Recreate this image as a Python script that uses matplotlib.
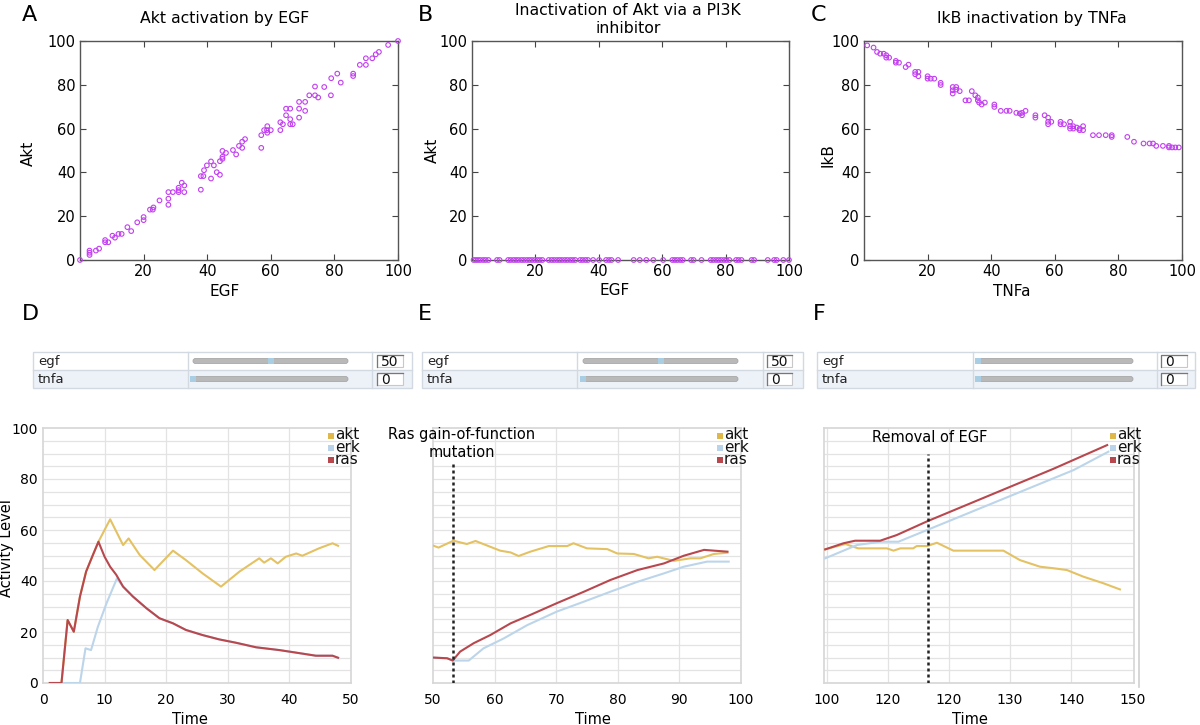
import matplotlib
matplotlib.use('Agg')
import matplotlib.pyplot as plt
from matplotlib.patches import Rectangle, FancyBboxPatch

# ---------------- DATA ----------------
# Panel A: Akt activation by EGF
a_egf = [0, 3, 3, 3, 5, 6, 7.9, 7.9, 8.9, 10.2, 11, 12.1, 13.1, 14.9, 16.1, 18, 20, 20, 22, 22.9,
         23.1, 25, 27.8, 27.8, 27.8, 29.2, 31, 31, 31, 32, 32.8, 32.8, 38, 38, 38.8, 39, 39.9, 41.2,
         41.2, 42.1, 43, 44, 44, 44.8, 44.8, 44.8, 45.9, 48.1, 49.1, 50, 51, 51, 51.9, 57, 57, 57.9,
         58.8, 58.9, 58.9, 60, 63, 63, 63.8, 64.8, 64.8, 66.1, 66.1, 66.1, 66.9, 68.9, 68.9, 68.9,
         70.8, 70.8, 72.1, 73.9, 73.9, 74.9, 76.8, 78.9, 79, 80.9, 82, 85.9, 85.9, 88, 89.9, 89.9,
         91.9, 93, 94, 96.9, 100]
a_akt = [0, 4.3, 3.3, 2.3, 4.3, 5.2, 9.1, 8.1, 8.1, 11.1, 10.2, 11.9, 11.9, 15, 13.2, 17.2, 19.6,
         18.2, 23, 23, 24, 27.2, 31, 28, 25.2, 31, 33, 31.9, 31, 35.3, 34, 31, 32.1, 38.3, 38.3, 41,
         43.2, 45, 37.2, 43.2, 40.1, 38.9, 45.1, 49.8, 47.1, 46.2, 48.9, 50.2, 48.2, 52.1, 51.2, 54,
         55.2, 51.2, 57, 59.3, 59.3, 61.1, 58.1, 59.3, 59.3, 62.9, 62, 66.1, 69.1, 69.1, 64.3, 62, 62,
         65, 69.1, 72.2, 72.2, 68.1, 75.2, 79.2, 75.2, 74.2, 79, 75.2, 83, 85.1, 81, 85.1, 84, 89.1,
         89.1, 92.1, 92.1, 93.9, 95, 98.2, 100]

# Panel B: Akt with PI3K inhibitor (all zero)
b_egf = [0.5, 1.2, 1.9, 2.6, 3.5, 4.3, 5.2, 7.9, 8.7, 11.4, 12.2, 13.1, 13.9, 14.7, 15.6, 16.4,
         17.3, 18.1, 18.9, 19.8, 20.6, 21.4, 22.2, 24.2, 25.1, 25.9, 26.8, 27.6, 28.4, 29.3, 30.1,
         31, 31.8, 32.6, 34.1, 34.9, 35.8, 36.6, 38.2, 40.1, 42.3, 43.2, 44, 46.1, 51, 52.9, 55,
         57.2, 60.3, 63.2, 64, 64.8, 65.7, 66.5, 69.1, 69.9, 72.4, 75.3, 76.1, 77, 77.8, 78.6, 79.5,
         80.3, 81.2, 83.3, 84.1, 85, 88.2, 89, 93.3, 95.3, 96.1, 98.2, 100]
b_akt = [0] * len(b_egf)

# Panel C: IkB inactivation by TNFa
c_tnfa = [1, 3, 4.1, 5.1, 6.2, 7, 7, 7.9, 10, 10, 11, 13.1, 14, 16.1, 16.1, 17.1, 17.1, 20, 20, 21,
          22.1, 24.1, 24.1, 27.9, 27.9, 27.9, 29, 29, 30.1, 31.9, 33, 33.9, 35, 35.8, 35.8, 36.2, 37,
          38, 41, 41, 43, 44.8, 45.8, 47.9, 49, 49.7, 49.7, 50.8, 53.9, 53.9, 56.8, 57.9, 57.9, 57.9,
          58.9, 61.8, 61.8, 62.9, 64.8, 64.8, 64.8, 65.8, 65.8, 66.9, 67.8, 67.8, 68.9, 68.9, 72,
          73.9, 76, 77.9, 77.9, 82.8, 84.9, 87.9, 89.8, 90.9, 91.9, 94, 95.9, 95.9, 96.9, 97.9, 99]
c_ikb = [98, 97, 95, 94.2, 94.2, 93.5, 92.4, 92.4, 90.9, 90.1, 90.1, 88.1, 89.2, 85.9, 84.8, 85.9,
         83.9, 83.9, 82.8, 82.8, 82.8, 80.9, 79.9, 79, 77.5, 76, 79, 77.8, 77.1, 72.9, 72.9, 77.1,
         75.2, 74.2, 72.9, 71.9, 71, 71.9, 71, 69.9, 68.1, 68.1, 68.1, 67.2, 66.9, 67.2, 66.1, 68.1,
         66.1, 65, 66.1, 65, 63.1, 62, 63.1, 63.1, 62, 62, 63.1, 61.1, 60, 60, 61.1, 60.5, 60, 59.3,
         61.1, 59.3, 57, 57, 57, 57, 56.2, 56.2, 54, 53.2, 53.2, 53.2, 52.1, 52.1, 52.1, 51.4, 51.4,
         51.4, 51.4]

scatter_xticks = [20, 40, 60, 80, 100]
scatter_yticks = [0, 20, 40, 60, 80, 100]

# Panel D: time course, EGF = 50
d_ras_t = [1.1, 3.0, 4.0, 5.0, 6.0, 7.0, 8.1, 9.0, 10.0, 10.9, 11.9, 13.0, 14.6, 16.8, 18.9, 21.1,
           23.2, 25.9, 28.6, 31.3, 34.6, 38.4, 41.1, 44.3, 47.0, 47.9]
d_ras_v = [0, 0, 24.7, 20.1, 33.9, 43.7, 50.2, 55.4, 49.5, 45.6, 42.4, 37.8, 33.9, 29.3, 25.4, 23.4,
           20.8, 18.8, 17.1, 15.8, 14.0, 12.9, 11.9, 10.7, 10.7, 9.9]
d_erk_t = [1.1, 6.0, 6.9, 7.8, 8.9, 10.3, 12.0, 13.0, 14.6, 16.8, 18.9, 21.1, 23.2, 25.9, 28.6,
           31.3, 34.6, 38.4, 41.1, 44.3, 47.0, 47.9]
d_erk_v = [0, 0, 13.6, 12.9, 22.0, 31.2, 41.0, 37.8, 33.9, 29.3, 25.4, 23.4, 20.8, 18.8, 17.1,
           15.8, 14.0, 12.9, 11.9, 10.7, 10.7, 9.9]
d_akt_t = [1.1, 3.0, 4.0, 5.0, 6.0, 7.0, 8.1, 9.0, 10.9, 13.0, 13.9, 15.7, 18.1, 21.1, 23.2, 25.9,
           28.9, 31.9, 35.1, 35.9, 37.0, 38.1, 39.4, 41.1, 42.1, 44.8, 47.0, 47.9]
d_akt_v = [0, 0, 24.7, 20.1, 33.9, 43.7, 50.2, 55.4, 64.2, 54.1, 56.7, 50.2, 44.3, 51.9, 48.2, 43.0,
           37.8, 43.7, 48.9, 47.2, 48.9, 46.9, 49.5, 50.8, 49.9, 52.8, 54.8, 53.8]

# Panel E: Ras gain-of-function mutation
e_event_t = 53.2
e_ras_t = [49.8, 52.3, 53.2, 54.4, 56.6, 59.3, 62.6, 65.8, 70.1, 74.5, 78.8, 83.2, 87.5, 90.7, 94.0,
           97.8]
e_ras_v = [10.0, 9.7, 8.8, 12.3, 15.6, 18.8, 23.4, 26.7, 31.3, 35.8, 40.4, 44.3, 46.9, 49.9, 52.2,
           51.5]
e_erk_t = [49.8, 52.3, 53.2, 55.8, 58.2, 61.5, 65.3, 70.1, 74.5, 78.8, 83.2, 87.5, 90.7, 94.5, 98.0]
e_erk_v = [10.0, 9.7, 8.8, 8.8, 13.6, 17.5, 22.7, 28.0, 31.9, 35.8, 39.7, 43.0, 45.6, 47.6, 47.6]
e_akt_t = [49.8, 50.9, 53.3, 55.5, 56.9, 60.9, 62.6, 63.9, 65.8, 68.8, 71.8, 72.8, 75.0, 78.3, 79.9,
           82.6, 85.0, 86.4, 89.1, 91.8, 93.4, 95.6, 97.8]
e_akt_v = [54.1, 53.1, 55.8, 54.5, 55.7, 51.9, 51.2, 49.8, 51.5, 53.7, 53.7, 54.8, 52.8, 52.5, 50.8,
           50.6, 48.9, 49.5, 47.9, 48.9, 48.9, 50.6, 51.1]

# Panel F: removal of EGF
f_event_t = 116.5
f_ras_t = [99.7, 102.7, 104.6, 108.7, 111.4, 116.4, 137.1, 145.9]
f_ras_v = [52.4, 54.8, 55.8, 55.8, 58.0, 63.4, 84.0, 93.3]
f_erk_t = [99.7, 104.9, 108.7, 111.7, 116.4, 140.4, 146.1]
f_erk_v = [48.9, 54.1, 55.4, 55.4, 60.0, 83.5, 90.7]
f_akt_t = [99.7, 103.0, 105.1, 109.8, 110.9, 112.0, 114.1, 114.7, 116.4, 118.0, 120.7, 128.9, 131.6,
           134.9, 137.1, 139.3, 142.0, 145.3, 148.0]
f_akt_v = [52.4, 54.5, 52.8, 52.8, 51.9, 52.8, 52.8, 53.7, 53.7, 55.0, 51.9, 51.9, 48.2, 45.6, 45.0,
           44.3, 41.7, 39.1, 36.7]
f_xticks = [100, 110, 120, 130, 140, 150]
f_xticklabels = ['100', '120', '120', '130', '140', '150']

time_yticks = [0, 20, 40, 60, 80, 100]
species = ['akt', 'erk', 'ras']

# slider settings (egf, tnfa) shown above D, E, F
slider_egf = [50, 50, 0]
slider_tnfa = [0, 0, 0]

# ---------------- STYLE ----------------
W, H = 1200, 725
plt.rcParams['font.family'] = ['DejaVu Sans']
fig = plt.figure(figsize=(12, 7.25), dpi=100)
fig.patch.set_facecolor('white')

colors = {'akt': '#e4c263', 'erk': '#bcd5ea', 'ras': '#b8474e'}
legend_colors = {'akt': '#e0b84a', 'erk': '#b9d3ea', 'ras': '#b8474e'}
scatter_color = '#c23ff0'


def px_axes(l, t, r, b, **kw):
    return fig.add_axes([l / W, 1 - b / H, (r - l) / W, (b - t) / H], **kw)


# ---------- top scatter panels ----------
def scatter_panel(ax, x, y):
    ax.scatter(x, y, s=11, facecolors='none', edgecolors=scatter_color, linewidths=0.8,
               clip_on=False, zorder=3)
    ax.set_xlim(0, 100)
    ax.set_ylim(0, 100)
    ax.set_xticks(scatter_xticks)
    ax.set_yticks(scatter_yticks)
    ax.tick_params(direction='in', top=True, right=True, length=4, width=0.8,
                   labelsize=10.5, pad=3, color='#444')
    for s in ax.spines.values():
        s.set_color('#555555')
        s.set_linewidth(1.0)


axA = px_axes(80, 41, 398, 260)
scatter_panel(axA, a_egf, a_akt)
axB = px_axes(472, 41, 789, 260)
scatter_panel(axB, b_egf, b_akt)
axC = px_axes(864, 41, 1182, 260)
scatter_panel(axC, c_tnfa, c_ikb)

fig.text(225 / W, 1 - 19 / H, 'Akt activation by EGF', ha='center', va='center', fontsize=11.3)
fig.text(628 / W, 1 - 19.5 / H, 'Inactivation of Akt via a PI3K\ninhibitor', ha='center',
         va='center', fontsize=11.3, linespacing=1.2)
fig.text(1032 / W, 1 - 19 / H, 'IkB inactivation by TNFa', ha='center', va='center', fontsize=11.3)

fig.text(225 / W, 1 - 292 / H, 'EGF', ha='center', va='center', fontsize=11)
fig.text(615 / W, 1 - 291 / H, 'EGF', ha='center', va='center', fontsize=11)
fig.text(1012 / W, 1 - 292 / H, 'TNFa', ha='center', va='center', fontsize=11)
fig.text(28 / W, 1 - 153 / H, 'Akt', ha='center', va='center', rotation=90, fontsize=11)
fig.text(432 / W, 1 - 150 / H, 'Akt', ha='center', va='center', rotation=90, fontsize=11)
fig.text(828 / W, 1 - 155 / H, 'IkB', ha='center', va='center', rotation=90, fontsize=11)

for letter, (x, y) in zip('ABCDEF', [(29, 15), (425, 15), (819, 15), (30, 314), (425, 314), (819, 314)]):
    fig.text(x / W, 1 - y / H, letter, ha='center', va='center', fontsize=16)


# ---------- bottom time-course panels ----------
def time_panel(ax, series, xlim, xticks, xticklabels=None, show_y=True):
    for name in species:
        t, v = series[name]
        ax.plot(t, v, color=colors[name], lw=1.5, solid_joinstyle='round', zorder=3)
    ax.set_xlim(*xlim)
    ax.set_ylim(0, 100)
    for yv in range(5, 100, 5):
        ax.axhline(yv, color='#e3e3e3', lw=0.9, zorder=1)
    for xv in xticks:
        if xlim[0] < xv < xlim[1] - 1:
            ax.axvline(xv, color='#e3e3e3', lw=0.9, zorder=1)
    ax.set_xticks(xticks)
    if xticklabels is not None:
        ax.set_xticklabels(xticklabels)
    if show_y:
        ax.set_yticks(time_yticks)
    else:
        ax.set_yticks([])
    ax.tick_params(length=0, labelsize=10, pad=7)
    ax.tick_params(axis='y', pad=4)
    for s in ax.spines.values():
        s.set_color('#d6d6d6')
        s.set_linewidth(1.2)


axD = px_axes(43, 428, 351, 683)
time_panel(axD, {'akt': (d_akt_t, d_akt_v), 'erk': (d_erk_t, d_erk_v), 'ras': (d_ras_t, d_ras_v)},
           (0, 50), [0, 10, 20, 30, 40, 50])
axE = px_axes(433, 428, 741, 683)
time_panel(axE, {'akt': (e_akt_t, e_akt_v), 'erk': (e_erk_t, e_erk_v), 'ras': (e_ras_t, e_ras_v)},
           (50, 100), [50, 60, 70, 80, 90, 100], show_y=False)
axF = px_axes(824, 428, 1134, 683)
time_panel(axF, {'akt': (f_akt_t, f_akt_v), 'erk': (f_erk_t, f_erk_v), 'ras': (f_ras_t, f_ras_v)},
           (99.5, 150.3), f_xticks, f_xticklabels, show_y=False)

axE.vlines(e_event_t, 0, 87, colors='#222222', linestyles=(0, (1.2, 1.2)), lw=1.8, zorder=4)
axF.vlines(f_event_t, 0, 90, colors='#222222', linestyles=(0, (1.2, 1.2)), lw=1.8, zorder=4)
axE.text(54.7, 94, 'Ras gain-of-function\nmutation', ha='center', va='center', fontsize=10.5,
         multialignment='center', linespacing=1.25, clip_on=False, zorder=5)
axF.text(116.9, 96.3, 'Removal of EGF', ha='center', va='center', fontsize=10.5,
         clip_on=False, zorder=5)

fig.text(190 / W, 1 - 719 / H, 'Time', ha='center', va='center', fontsize=10.5)
fig.text(593 / W, 1 - 719 / H, 'Time', ha='center', va='center', fontsize=10.5)
fig.text(970 / W, 1 - 719 / H, 'Time', ha='center', va='center', fontsize=10.5)
fig.text(7 / W, 1 - 548 / H, 'Activity Level', ha='center', va='center', rotation=90, fontsize=10.5)

# ---------- overlay (figure pixels) for legends and slider widgets ----------
ov = fig.add_axes([0, 0, 1, 1], zorder=10)
ov.set_xlim(0, W)
ov.set_ylim(H, 0)
ov.axis('off')
ov.patch.set_alpha(0)

# legends: one multi-line text per panel with tight line spacing
for sq_x in [331, 720, 1113]:
    for i, name in enumerate(species):
        yy = 435 + 12 * i
        ov.add_patch(Rectangle((sq_x - 3, yy - 2.5), 6, 6, color=legend_colors[name], lw=0))
    ov.text(sq_x + 4, 447, '\n'.join(species), ha='left', va='center', fontsize=11,
            color='#111', linespacing=0.78)

# extra frame line right of panel F (as in the screenshot)
ov.plot([1139, 1139], [431, 687], color='#cfcfcf', lw=1.2)

# slider widgets
boxes = [  # left, right, col1, col2, track_l, track_r, val_l, val_r
    (33, 412, 188, 372, 193, 348, 377, 403),
    (422, 803, 577, 763, 583, 738, 767, 792),
    (817, 1195, 973, 1157, 978, 1133, 1161, 1187),
]
top, mid, bot = 352, 370, 388
for (l, r, c1, c2, tl, tr, vl, vr), ev, tv in zip(boxes, slider_egf, slider_tnfa):
    ov.add_patch(Rectangle((l, top), r - l, mid - top, facecolor='white', edgecolor='none'))
    ov.add_patch(Rectangle((l, mid), r - l, bot - mid, facecolor='#edf2f8', edgecolor='none'))
    ov.add_patch(Rectangle((l, top), r - l, bot - top, facecolor='none', edgecolor='#d3d9e0', lw=1))
    ov.plot([l, r], [mid, mid], color='#d3d9e0', lw=1)
    ov.plot([c1, c1], [top, bot], color='#d3d9e0', lw=1)
    ov.plot([c2, c2], [top, bot], color='#d3d9e0', lw=1)
    for (label, val), yc in zip([('egf', ev), ('tnfa', tv)], [(top + mid) / 2, (mid + bot) / 2]):
        ov.text(l + 5, yc, label, ha='left', va='center', fontsize=9.5, color='#222')
        ov.add_patch(FancyBboxPatch((tl, yc - 2.5), tr - tl, 5,
                                    boxstyle='round,pad=0,rounding_size=2.5',
                                    facecolor='#b9b9b9', edgecolor='#a8a8a8', lw=0.6))
        thumb_x = tl + (tr - tl) * val / 100.0
        ov.add_patch(Rectangle((thumb_x - 3, yc - 3), 6, 6, facecolor='#a9cde3', edgecolor='none'))
        ov.add_patch(Rectangle((vl, yc - 6), vr - vl, 12, facecolor='white', edgecolor='#c8c8c8', lw=0.8))
        ov.plot([vl, vl, vr], [yc + 6, yc - 6, yc - 6], color='#777', lw=0.9)
        ov.text(vl + 4, yc + 0.5, str(val), ha='left', va='center', fontsize=10, color='#111')

fig.savefig('out.png', dpi=100, facecolor='white')
